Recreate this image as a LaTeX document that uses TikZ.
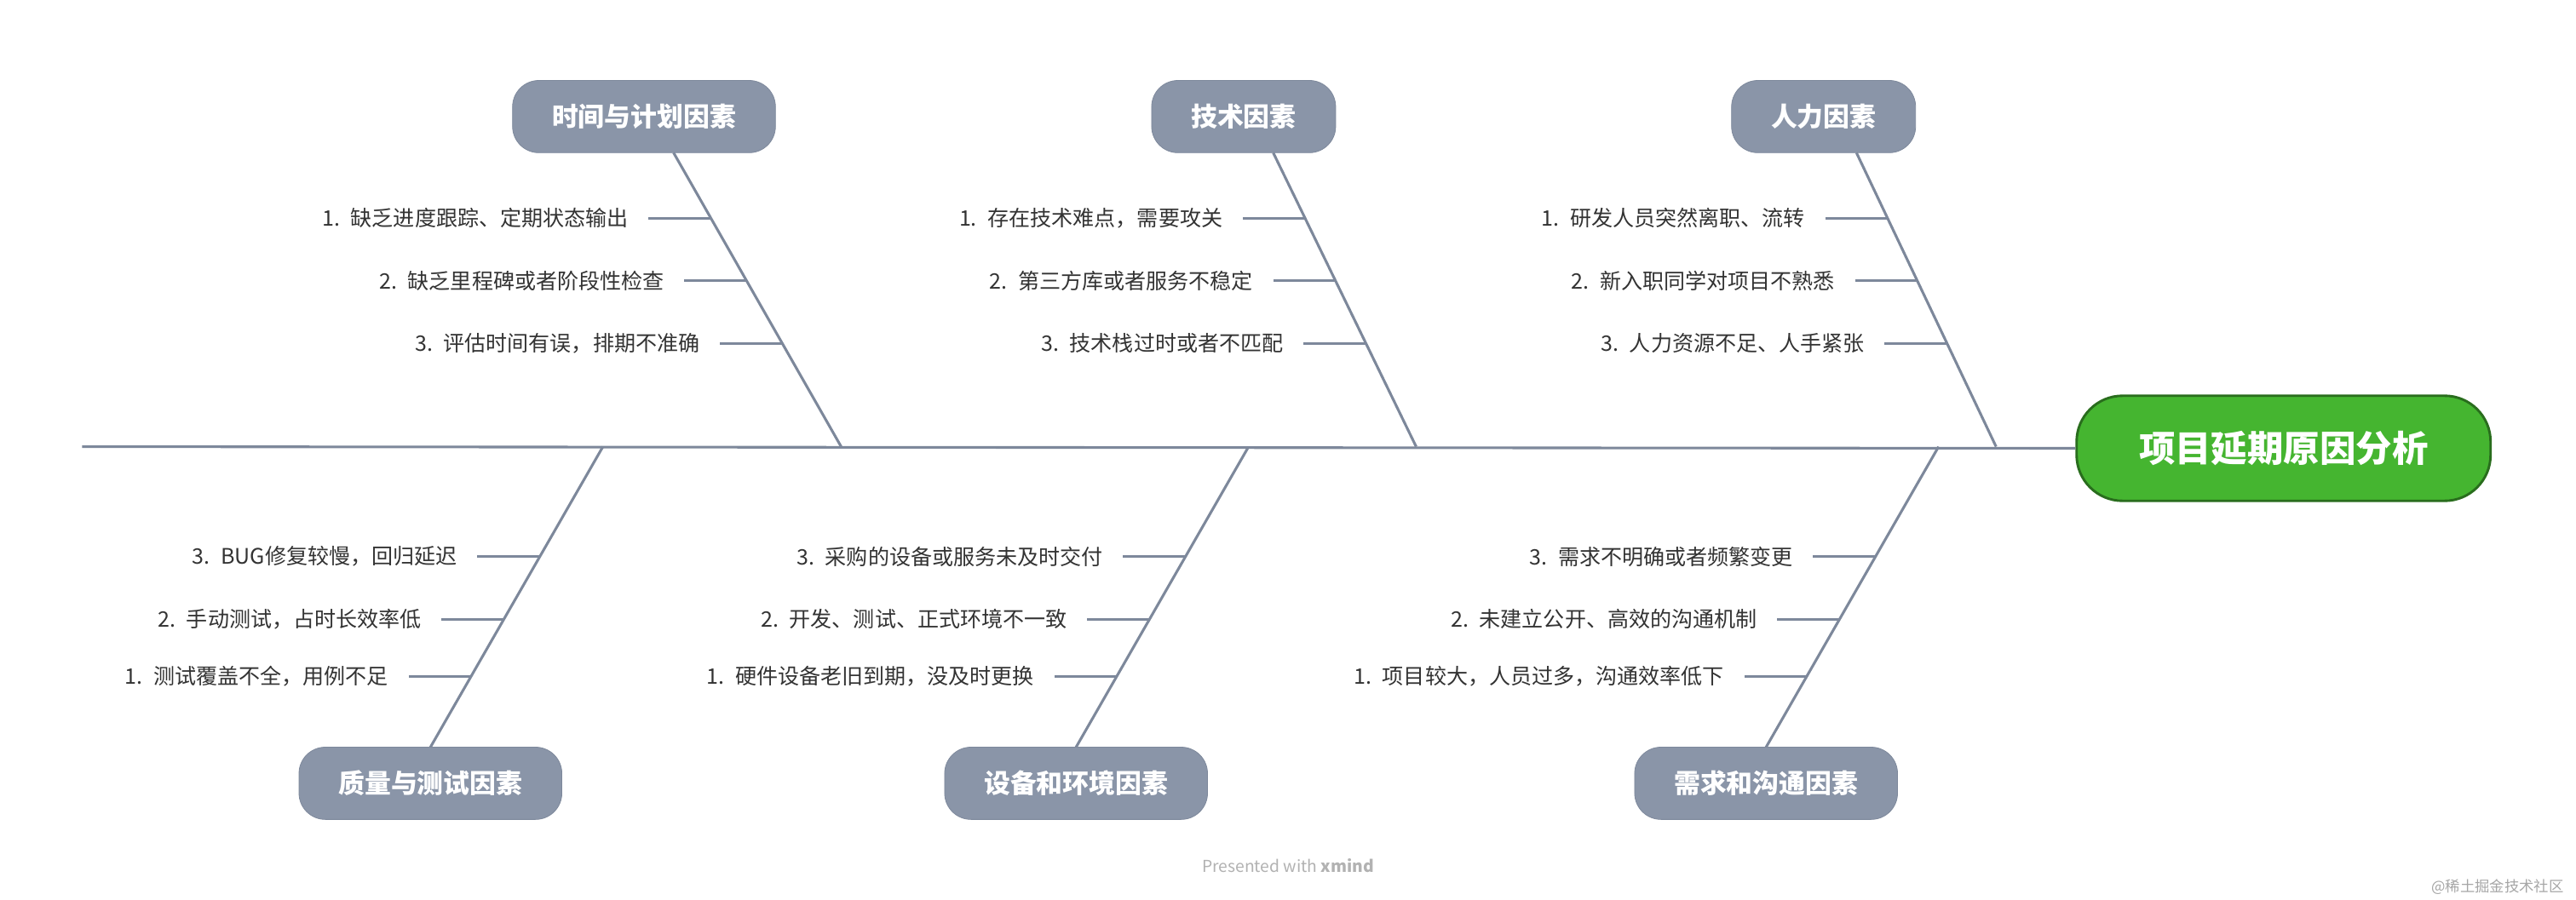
\documentclass[tikz,border=0pt]{standalone}
\usepackage{fontspec}
\setmainfont{Noto Sans CJK SC}
\usetikzlibrary{calc}
\definecolor{bonec}{HTML}{7D889B}
\definecolor{catc}{HTML}{8A95A8}
\definecolor{headc}{HTML}{45B530}
\definecolor{txtc}{HTML}{333333}
\tikzset{
  cat/.style={rectangle, rounded corners=16pt, fill=catc, draw=bonec, text=white,
    font=\fontsize{16}{19}\selectfont\bfseries, minimum height=44pt, inner xsep=24pt},
  head/.style={rectangle, rounded corners=28pt, fill=headc, draw=headc!60!black, line width=1.5pt,
    text=white, font=\fontsize{22}{26}\selectfont\bfseries, minimum width=252pt, minimum height=64pt},
  bone/.style={draw=bonec, line width=1.6pt},
  item/.style={anchor=east, text=txtc, font=\fontsize{13}{15}\selectfont, inner sep=0pt}
}
\newcommand{\subbone}[4]{% bone, index, pos, text
  \path (#1t) -- (#1b) coordinate[pos=#3] (#1p#2);
  \draw[bone] (#1p#2) -- ++(-38,0) coordinate (#1q#2);
  \node[item] (#1n#2) at ($(#1q#2)+(-12,0)$) {#4};}
\begin{document}
\begin{tikzpicture}[x=1pt,y=-1pt]
\useasboundingbox[fill=white] (0,0) rectangle (1568,548);
\node[head] (root) at (1390,273) {项目延期原因分析};
\draw[bone] (50,272) -- (root.west);
% upper categories
\node[cat] (c1) at (392,71) {时间与计划因素};
\node[cat] (c2) at (757,71) {技术因素};
\node[cat] (c3) at (1110,71) {人力因素};
\coordinate (at) at (410,93);  \coordinate (ab) at (512,272);
\coordinate (bt) at (775,93);  \coordinate (bb) at (862,272);
\coordinate (ct) at (1130,93); \coordinate (cb) at (1215,272);
\draw[bone] (at) -- (ab); \draw[bone] (bt) -- (bb); \draw[bone] (ct) -- (cb);
\subbone{a}{1}{0.223}{1.\enspace 缺乏进度跟踪、定期状态输出}
\subbone{a}{2}{0.436}{2.\enspace 缺乏里程碑或者阶段性检查}
\subbone{a}{3}{0.648}{3.\enspace 评估时间有误，排期不准确}
\subbone{b}{1}{0.223}{1.\enspace 存在技术难点，需要攻关}
\subbone{b}{2}{0.436}{2.\enspace 第三方库或者服务不稳定}
\subbone{b}{3}{0.648}{3.\enspace 技术栈过时或者不匹配}
\subbone{c}{1}{0.223}{1.\enspace 研发人员突然离职、流转}
\subbone{c}{2}{0.436}{2.\enspace 新入职同学对项目不熟悉}
\subbone{c}{3}{0.648}{3.\enspace 人力资源不足、人手紧张}
% lower categories
\node[cat] (c4) at (262,477) {质量与测试因素};
\node[cat] (c5) at (655,477) {设备和环境因素};
\node[cat] (c6) at (1075,477) {需求和沟通因素};
\coordinate (dt) at (367,272);  \coordinate (db) at (262,455);
\coordinate (et) at (760,272);  \coordinate (eb) at (655,455);
\coordinate (ft) at (1180,272); \coordinate (fb) at (1075,455);
\draw[bone] (dt) -- (db); \draw[bone] (et) -- (eb); \draw[bone] (ft) -- (fb);
\subbone{d}{3}{0.366}{3.\enspace BUG修复较慢，回归延迟}
\subbone{d}{2}{0.574}{2.\enspace 手动测试，占时长效率低}
\subbone{d}{1}{0.765}{1.\enspace 测试覆盖不全，用例不足}
\subbone{e}{3}{0.366}{3.\enspace 采购的设备或服务未及时交付}
\subbone{e}{2}{0.574}{2.\enspace 开发、测试、正式环境不一致}
\subbone{e}{1}{0.765}{1.\enspace 硬件设备老旧到期，没及时更换}
\subbone{f}{3}{0.366}{3.\enspace 需求不明确或者频繁变更}
\subbone{f}{2}{0.574}{2.\enspace 未建立公开、高效的沟通机制}
\subbone{f}{1}{0.765}{1.\enspace 项目较大，人员过多，沟通效率低下}
\node[text=gray!60, font=\fontsize{10}{12}\selectfont] (pw) at (784,527) {Presented with \textbf{xmind}};
\node[text=gray!70, font=\fontsize{9}{11}\selectfont, anchor=east] (wm) at (1564,540) {@稀土掘金技术社区};
\end{tikzpicture}
\end{document}
